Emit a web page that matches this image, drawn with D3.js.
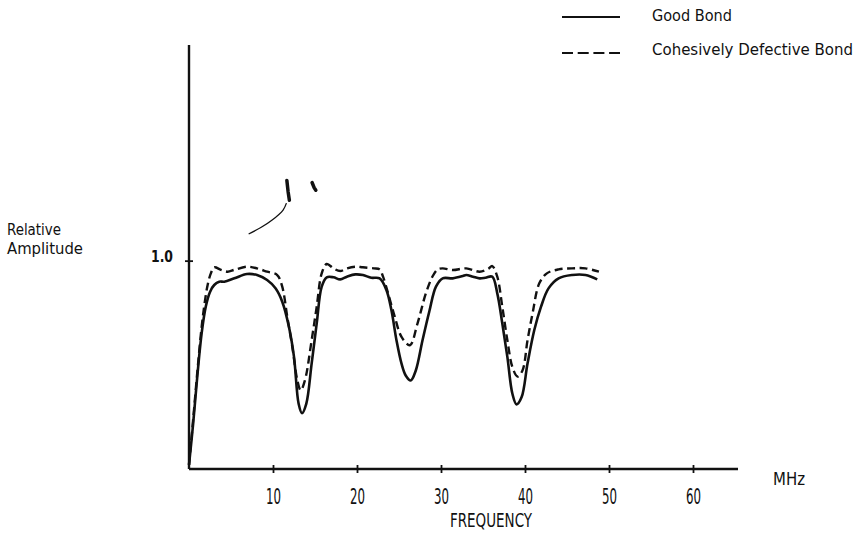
<!DOCTYPE html>
<html>
<head>
<meta charset="utf-8">
<script src="https://cdn.jsdelivr.net/npm/d3@7"></script>
<style>
  html, body { margin: 0; padding: 0; background: #fff; }
  svg { display: block; }
  text { font-family: "Liberation Sans Narrow", "DejaVu Sans Condensed", "Arial Narrow", sans-serif; fill: #111; }
</style>
</head>
<body>
<div id="chart"></div>
<script>
// Frequency (MHz) and relative amplitude
const goodFreq = [0, 0.5, 1.0, 1.5, 2.0, 2.5, 3.0, 3.6, 4.2, 5.4, 6.9, 8.1, 9.3, 10.3, 11.1, 11.9, 12.5, 13.05, 13.45, 13.96, 14.6, 15.2, 15.8, 16.4, 17.2, 18.0, 18.8, 19.8, 20.7, 21.7, 22.7, 23.5, 24.1, 24.7, 25.3, 25.8, 26.4, 27.0, 27.8, 28.6, 29.4, 30.2, 31.4, 32.6, 33.0, 33.8, 34.6, 35.3, 36.1, 36.7, 37.3, 37.9, 38.5, 39.0, 39.6, 40.3, 41.1, 41.9, 42.8, 44.0, 45.6, 47.2, 48.6];
const goodAmp = [0.02, 0.22, 0.45, 0.65, 0.78, 0.85, 0.883, 0.899, 0.899, 0.915, 0.936, 0.931, 0.907, 0.867, 0.803, 0.682, 0.538, 0.313, 0.268, 0.313, 0.506, 0.698, 0.875, 0.92, 0.92, 0.91, 0.923, 0.934, 0.931, 0.918, 0.915, 0.859, 0.762, 0.618, 0.506, 0.449, 0.425, 0.473, 0.618, 0.755, 0.875, 0.915, 0.915, 0.926, 0.931, 0.923, 0.915, 0.918, 0.923, 0.843, 0.698, 0.538, 0.361, 0.31, 0.345, 0.506, 0.666, 0.778, 0.867, 0.915, 0.931, 0.931, 0.91];

const defectFreq = [0, 0.5, 1.0, 1.5, 1.8, 2.2, 2.6, 3.0, 3.8, 4.6, 5.4, 6.9, 8.1, 9.3, 10.5, 11.1, 11.7, 12.3, 12.9, 13.3, 13.8, 14.6, 15.2, 15.8, 16.4, 17.2, 18.0, 18.8, 19.8, 20.7, 22.0, 22.7, 23.1, 23.7, 24.5, 25.3, 26.3, 27.2, 28.2, 29.0, 29.6, 30.2, 31.4, 33.0, 34.6, 35.6, 36.1, 36.7, 37.3, 37.9, 38.5, 39.1, 39.7, 40.3, 40.9, 41.7, 42.6, 44.0, 45.6, 47.2, 48.8];
const defectAmp = [0.02, 0.24, 0.47, 0.68, 0.778, 0.88, 0.939, 0.968, 0.956, 0.947, 0.956, 0.971, 0.963, 0.947, 0.931, 0.875, 0.73, 0.586, 0.425, 0.377, 0.425, 0.618, 0.778, 0.939, 0.984, 0.963, 0.95, 0.963, 0.971, 0.968, 0.963, 0.958, 0.923, 0.843, 0.73, 0.634, 0.594, 0.698, 0.843, 0.925, 0.958, 0.963, 0.955, 0.963, 0.947, 0.96, 0.974, 0.923, 0.778, 0.618, 0.489, 0.444, 0.473, 0.618, 0.747, 0.891, 0.939, 0.958, 0.963, 0.963, 0.947];

const xTicks = [10, 20, 30, 40, 50, 60];
const yTicks = [1.0];
const seriesNames = ["Good Bond", "Cohesively Defective Bond"];

// stray pen marks on the scanned original (data units)
const scanStroke = [[7.1, 1.128], [8.6, 1.16], [9.9, 1.195], [11.2, 1.243], [11.6, 1.276]];
const scanBlobs = [[[11.65, 1.385], [11.8, 1.33], [11.95, 1.29]], [[14.65, 1.375], [14.9, 1.35], [15.1, 1.338]]];

const width = 861;
const height = 534;

const svg = d3.select("#chart")
    .append("svg")
    .attr("width", width)
    .attr("height", height)
    .attr("viewBox", [0, 0, width, height]);

const x = d3.scaleLinear().domain([0, 65]).range([189, 735]);
const y = d3.scaleLinear().domain([0, 2.035]).range([469, 45]);

// axes
const xAxis = svg.append("g")
    .attr("transform", `translate(0,${y(0)})`)
    .call(d3.axisBottom(x).tickValues(xTicks).tickSize(4).tickPadding(16).tickFormat(d3.format("d")));
xAxis.select(".domain").attr("d", `M${x(0)},0H${x(65) + 3}`).attr("stroke", "#111").attr("stroke-width", 2.4);
xAxis.selectAll(".tick line").attr("y1", -4).attr("y2", 4).attr("stroke", "#111").attr("stroke-width", 1.8);
xAxis.selectAll(".tick text")
    .attr("font-size", 21)
    .attr("fill", "#111")
    .attr("textLength", 15)
    .attr("lengthAdjust", "spacingAndGlyphs");

const yAxis = svg.append("g")
    .attr("transform", `translate(${x(0)},0)`)
    .call(d3.axisLeft(y).tickValues(yTicks).tickSize(4).tickPadding(12).tickFormat(d3.format(".1f")));
yAxis.select(".domain").attr("d", `M0,${y(0)}V${y(2.035)}`).attr("stroke", "#111").attr("stroke-width", 2.4);
yAxis.selectAll(".tick line").attr("x1", -4).attr("x2", 4).attr("stroke", "#111").attr("stroke-width", 1.8);
yAxis.selectAll(".tick text")
    .attr("font-size", 15)
    .attr("font-weight", "bold")
    .attr("dy", "0.03em")
    .attr("fill", "#111")
    .attr("textLength", 22)
    .attr("lengthAdjust", "spacingAndGlyphs");

// curves
const line = d3.line()
    .x(d => x(d[0]))
    .y(d => y(d[1]))
    .curve(d3.curveCatmullRom.alpha(0.5));

const goodData = goodFreq.map((f, i) => [f, goodAmp[i]]);
const defectData = defectFreq.map((f, i) => [f, defectAmp[i]]);

svg.append("path")
    .datum(defectData)
    .attr("fill", "none")
    .attr("stroke", "#111")
    .attr("stroke-width", 2.4)
    .attr("stroke-dasharray", "8,4.5")
    .attr("d", line);

svg.append("path")
    .datum(goodData)
    .attr("fill", "none")
    .attr("stroke", "#111")
    .attr("stroke-width", 2.6)
    .attr("d", line);

// scan marks
svg.append("path")
    .datum(scanStroke)
    .attr("fill", "none")
    .attr("stroke", "#111")
    .attr("stroke-width", 1.3)
    .attr("d", line);
svg.selectAll(".blob")
    .data(scanBlobs)
    .join("path")
    .attr("class", "blob")
    .attr("fill", "none")
    .attr("stroke", "#111")
    .attr("stroke-width", 3.5)
    .attr("stroke-linecap", "round")
    .attr("d", d3.line().x(d => x(d[0])).y(d => y(d[1])));

// axis titles
function label(tx, ty, size, len, str, anchor) {
    return svg.append("text")
        .attr("x", tx).attr("y", ty)
        .attr("font-size", size)
        .attr("text-anchor", anchor || "start")
        .attr("textLength", len)
        .attr("lengthAdjust", "spacingAndGlyphs")
        .text(str);
}
label(7, 235, 16, 54, "Relative");
label(7, 254, 16, 76, "Amplitude");
label(773, 485, 17, 32, "MHz");
label(450, 527, 19, 82, "FREQUENCY");

// legend
const legend = svg.append("g");
const legendRows = [
    { name: seriesNames[0], y: 17, dash: null, ty: 21, len: 80 },
    { name: seriesNames[1], y: 53, dash: "11,4.7", ty: 55, len: 201 }
];
legendRows.forEach(r => {
    legend.append("line")
        .attr("x1", 562).attr("x2", 620)
        .attr("y1", r.y).attr("y2", r.y)
        .attr("stroke", "#111")
        .attr("stroke-width", 2)
        .attr("stroke-dasharray", r.dash);
    legend.append("text")
        .attr("x", 652).attr("y", r.ty)
        .attr("font-size", 16)
        .attr("textLength", r.len)
        .attr("lengthAdjust", "spacingAndGlyphs")
        .text(r.name);
});
</script>
</body>
</html>
